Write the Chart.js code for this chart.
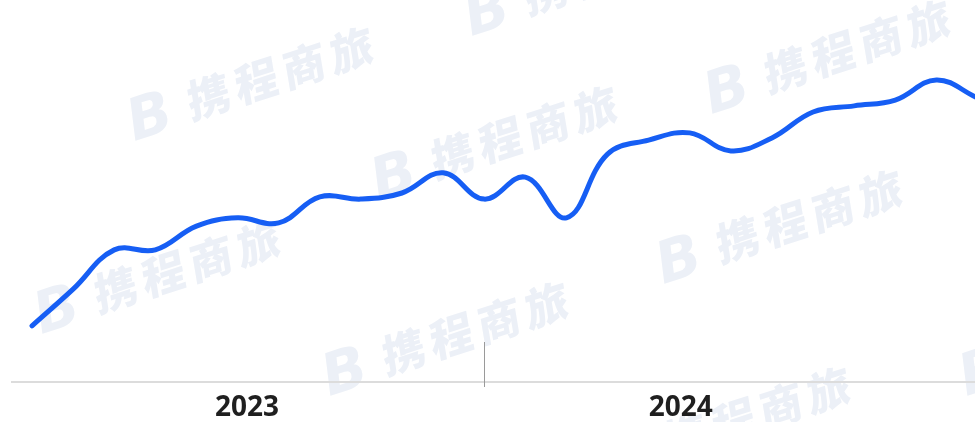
<!DOCTYPE html>
<html>
<head>
<meta charset="utf-8">
<script src="https://cdn.jsdelivr.net/npm/chart.js@4/dist/chart.umd.min.js"></script>
<style>
  html, body { margin: 0; padding: 0; background: #ffffff; }
  #wrap { width: 975px; height: 422px; position: relative; }
</style>
</head>
<body>
<div id="wrap"><canvas id="c" width="975" height="422"></canvas></div>
<script>
// ---- data ----
const pointIndex = [0,1,2,3,4,5,6,7,8,9,10,11,12,13,14,15,16,17,18,19,20,21,22,23];
const values = [15.6,25.8,36.7,36.7,43.3,45.6,44.2,51.4,50.8,52.5,58.1,50.8,56.9,45.6,63.3,67.2,69.2,64.2,67.8,75.0,76.7,78.3,83.9,78.9];
const yearLabels = ['2023','2024'];
const yearLabelPos = [5.23, 15.78];
const yearBoundary = 11;

const wmText = '携程商旅';
const wmAnchors = [[138,140],[475,35],[715,113],[382,199],[45,333],[667,283],[333,395],[615,480],[970,395]];

const watermarkPlugin = {
  id: 'wm',
  beforeDraw(chart) {
    const ctx = chart.ctx;
    ctx.save();
    ctx.fillStyle = '#ecf0f7';
    ctx.textBaseline = 'alphabetic';
    wmAnchors.forEach(([ax, ay]) => {
      ctx.save();
      ctx.translate(ax, ay);
      ctx.rotate(-18 * Math.PI / 180);
      ctx.font = 'italic 900 58px "DejaVu Sans"';
      ctx.fillText('B', -4, 0);
      ctx.transform(1, 0, -0.15, 1, 0, 0);
      ctx.font = '900 44px "Noto Sans CJK SC"';
      for (let i = 0; i < wmText.length; i++) {
        ctx.fillText(wmText[i], 56 + i * 50, -3);
      }
      ctx.restore();
    });
    ctx.restore();
  }
};

const separatorPlugin = {
  id: 'sep',
  afterDraw(chart) {
    const ctx = chart.ctx;
    const x = Math.round(chart.scales.x.getPixelForValue(yearBoundary)) + 0.5;
    const b = chart.chartArea.bottom;
    ctx.save();
    ctx.strokeStyle = '#9a9a9a';
    ctx.lineWidth = 1;
    ctx.beginPath();
    ctx.moveTo(x, b - 40);
    ctx.lineTo(x, b + 5);
    ctx.stroke();
    ctx.restore();
  }
};

new Chart(document.getElementById('c'), {
  type: 'line',
  data: {
    datasets: [{
      data: pointIndex.map((i, k) => ({ x: i, y: values[k] })),
      borderColor: '#165ef4',
      borderWidth: 5,
      pointRadius: 0,
      pointHoverRadius: 0,
      tension: 0.4,
      fill: false,
      borderCapStyle: 'round',
      borderJoinStyle: 'round'
    }]
  },
  options: {
    responsive: false,
    animation: false,
    events: [],
    layout: { padding: { left: 12, right: 0, top: 22, bottom: 0 } },
    plugins: { legend: { display: false }, tooltip: { enabled: false } },
    scales: {
      x: {
        type: 'linear',
        min: -0.487,
        max: 22.94,
        afterFit(scale) { scale.height = 40; },
        afterBuildTicks(scale) {
          scale.ticks = yearLabelPos.map(v => ({ value: v }));
        },
        grid: { display: false, drawTicks: false },
        border: { display: true, color: '#dcdcdc', width: 2 },
        ticks: {
          autoSkip: false,
          maxRotation: 0,
          padding: 11,
          color: '#1f1f1f',
          font: { family: '"Noto Sans", sans-serif', size: 28, weight: 'bold', lineHeight: 1.1 },
          callback(value, idx) { return yearLabels[idx]; }
        }
      },
      y: {
        display: false,
        min: 0,
        max: 100
      }
    }
  },
  plugins: [watermarkPlugin, separatorPlugin]
});
</script>
</body>
</html>
